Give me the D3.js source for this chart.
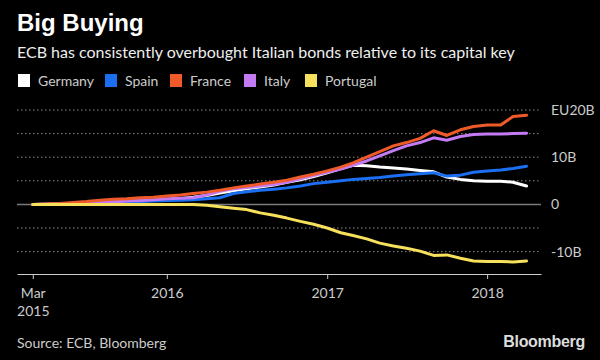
<!DOCTYPE html>
<html>
<head>
<meta charset="utf-8">
<script src="https://cdn.jsdelivr.net/npm/d3@7"></script>
<style>
  html, body { margin: 0; padding: 0; background: #000; }
  svg { display: block; }
</style>
</head>
<body>
<svg id="chart" width="600" height="360"></svg>
<script>
// ---- Data (EUR billions, monthly Mar 2015 – Apr 2018) ----
const startMonth = "2015-03";
const seriesNames = ["Germany", "Spain", "France", "Italy", "Portugal"];
const germany = [0, 0.05, 0.1, 0.2, 0.3, 0.4, 0.5, 0.6, 0.7, 0.9, 1.0, 1.2, 1.5, 1.9, 2.4, 2.9, 3.3, 3.7, 4.1, 4.7, 5.2, 5.9, 6.7, 7.6, 8.3, 8.2, 7.9, 7.7, 7.5, 7.2, 6.9, 5.8, 5.3, 5.0, 4.9, 4.9, 4.7, 3.9];
const spain = [0, 0.05, 0.1, 0.15, 0.2, 0.3, 0.4, 0.5, 0.6, 0.7, 0.8, 0.9, 1.0, 1.2, 1.4, 2.3, 2.7, 3.0, 3.2, 3.5, 3.9, 4.4, 4.7, 5.0, 5.3, 5.5, 5.7, 6.0, 6.3, 6.5, 6.7, 6.0, 6.2, 6.8, 7.1, 7.3, 7.6, 8.1];
const france = [0, 0.1, 0.2, 0.4, 0.6, 0.9, 1.1, 1.2, 1.4, 1.5, 1.8, 2.0, 2.3, 2.6, 3.0, 3.5, 3.9, 4.3, 4.7, 5.1, 5.8, 6.4, 7.1, 7.9, 8.8, 10.0, 11.2, 12.4, 13.1, 14.0, 15.6, 14.6, 15.8, 16.5, 16.8, 16.8, 18.6, 18.9];
const italy = [0, 0.05, 0.1, 0.2, 0.3, 0.4, 0.5, 0.7, 0.8, 1.0, 1.2, 1.3, 1.4, 2.0, 2.8, 3.3, 3.6, 3.9, 4.2, 4.7, 5.4, 6.1, 6.8, 7.5, 8.3, 9.2, 10.3, 11.4, 12.4, 13.1, 14.1, 13.6, 14.4, 14.8, 14.9, 14.9, 15.0, 15.1];
const portugal = [0, 0, 0, 0, 0, 0, 0, 0, 0, 0, 0, 0, 0, -0.2, -0.5, -0.8, -1.1, -1.8, -2.3, -2.9, -3.6, -4.2, -5.0, -6.0, -6.6, -7.3, -8.2, -8.8, -9.3, -9.9, -10.8, -10.7, -11.4, -12.0, -12.1, -12.1, -12.2, -12.0];
const seriesColors = ["#ffffff", "#1b6ff2", "#f05a2a", "#c27bf3", "#f6e05c"];
const yTickValues = [-10, 0, 10, 20];
const yTickLabels = ["-10B", "0", "10B", "EU20B"];
const yGridValues = [-10, -5, 5, 10, 15, 20];
const xTickDates = ["2015-03-01", "2016-01-01", "2017-01-01", "2018-01-01"];
const xTickLabels = [["Mar", "2015"], ["2016"], ["2017"], ["2018"]];

const title = "Big Buying";
const subtitle = "ECB has consistently overbought Italian bonds relative to its capital key";
const source = "Source: ECB, Bloomberg";

// ---- Build ----
const parseMonth = d3.timeParse("%Y-%m");
const parseDay = d3.timeParse("%Y-%m-%d");
const start = parseMonth(startMonth);
const allValues = [germany, spain, france, italy, portugal];
const dates = d3.range(germany.length).map(i => d3.timeMonth.offset(start, i));

const svg = d3.select("#chart");
svg.append("rect").attr("width", 600).attr("height", 360).attr("fill", "#000");

const textFont = "Lato, 'Open Sans', sans-serif";

svg.append("text").attr("x", 17).attr("y", 31)
  .attr("font-family", "'Liberation Sans', Arial, sans-serif")
  .attr("font-weight", "bold").attr("font-size", 24).attr("fill", "#fff")
  .text(title);

svg.append("text").attr("x", 17).attr("y", 58)
  .attr("font-family", textFont).attr("font-size", 16).attr("fill", "#eee")
  .text(subtitle);

// Legend
const legendX = [18, 105, 170, 244, 305];
const legend = svg.append("g");
seriesNames.forEach((name, i) => {
  const g = legend.append("g").attr("transform", `translate(${legendX[i]},74)`);
  g.append("rect").attr("width", 12).attr("height", 13).attr("fill", seriesColors[i]);
  g.append("text").attr("x", 20).attr("y", 11.5)
    .attr("font-family", textFont).attr("font-size", 14).attr("fill", "#ccc")
    .text(name);
});

// Scales
const x = d3.scaleTime()
  .domain([new Date(2015, 0, 24), new Date(2018, 4, 4)])
  .range([17, 541]);
const y = d3.scaleLinear().domain([-10, 20]).range([251.6, 110]);

// Gridlines
svg.append("g").selectAll("line").data(yGridValues).join("line")
  .attr("x1", 17).attr("x2", 541)
  .attr("y1", d => y(d)).attr("y2", d => y(d))
  .attr("stroke", "#8a8a8a").attr("stroke-width", 1)
  .attr("stroke-dasharray", "1.5,2.5");

svg.append("line").attr("x1", 17).attr("x2", 541)
  .attr("y1", y(0)).attr("y2", y(0))
  .attr("stroke", "#7a7a7a").attr("stroke-width", 1.5);

// Y labels
svg.append("g").selectAll("text").data(yTickValues).join("text")
  .attr("x", 551).attr("y", d => y(d)).attr("dy", "0.35em")
  .attr("font-family", textFont).attr("font-size", 14).attr("fill", "#ccc")
  .text((d, i) => yTickLabels[i]);

// X axis
const xAxis = d3.axisBottom(x)
  .tickValues(xTickDates.map(parseDay))
  .tickSize(5)
  .tickSizeOuter(0)
  .tickFormat("");
const gx = svg.append("g").attr("transform", "translate(0,274)").call(xAxis);
gx.select(".domain").attr("stroke", "#ccc").attr("stroke-width", 1);
gx.selectAll(".tick line").attr("stroke", "#ccc");
gx.selectAll(".tick").each(function(d, i) {
  const t = d3.select(this).append("text")
    .attr("y", 24).attr("fill", "#ccc")
    .attr("font-family", textFont).attr("font-size", 14)
    .attr("text-anchor", "middle");
  xTickLabels[i].forEach((s, j) => {
    t.append("tspan").attr("x", 0).attr("dy", j === 0 ? 0 : 18).text(s);
  });
});

// Lines
const line = d3.line()
  .x((d, i) => x(dates[i]))
  .y(d => y(d));

const drawOrder = [0, 1, 3, 2, 4];
svg.append("g").selectAll("path").data(drawOrder).join("path")
  .attr("d", k => line(allValues[k]))
  .attr("fill", "none")
  .attr("stroke", k => seriesColors[k])
  .attr("stroke-width", 3)
  .attr("stroke-linejoin", "round")
  .attr("stroke-linecap", "round");

// Footer
svg.append("text").attr("x", 17).attr("y", 348)
  .attr("font-family", textFont).attr("font-size", 14).attr("fill", "#ccc")
  .text(source);

svg.append("text").attr("x", 585).attr("y", 347).attr("text-anchor", "end")
  .attr("font-family", "'Liberation Sans', Arial, sans-serif")
  .attr("font-weight", "bold").attr("font-size", 16).attr("fill", "#ddd")
  .attr("letter-spacing", -0.3)
  .text("Bloomberg");
</script>
</body>
</html>
